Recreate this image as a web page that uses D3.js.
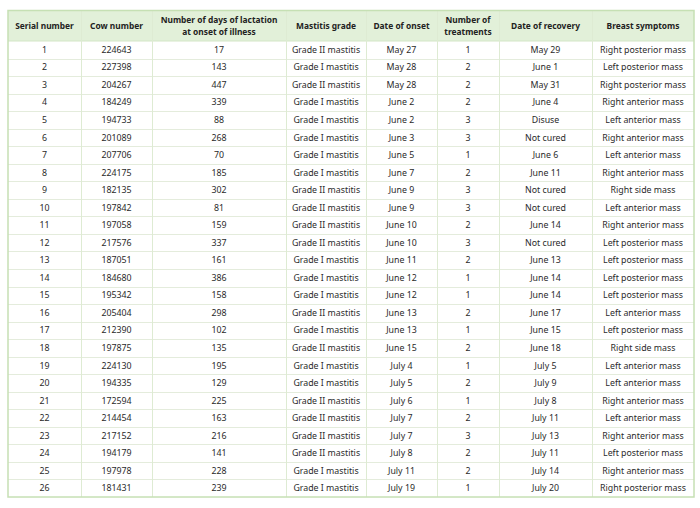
<!DOCTYPE html>
<html>
<head>
<meta charset="utf-8">
<script src="https://cdn.jsdelivr.net/npm/d3@7"></script>
<style>
  html, body { margin: 0; padding: 0; background: #fff; }
  svg { display: block; }
  text { font-family: "Noto Sans", "Open Sans", sans-serif; }
</style>
</head>
<body>
<svg id="chart" width="700" height="508"></svg>
<script>
const headers = [
  ["Serial number"],
  ["Cow number"],
  ["Number of days of lactation", "at onset of illness"],
  ["Mastitis grade"],
  ["Date of onset"],
  ["Number of", "treatments"],
  ["Date of recovery"],
  ["Breast symptoms"]
];
const serial = d3.range(1, 27).map(String);
const cowNumber = ["224643","227398","204267","184249","194733","201089","207706","224175","182135","197842","197058","217576","187051","184680","195342","205404","212390","197875","224130","194335","172594","214454","217152","194179","197978","181431"];
const lactationDays = [17,143,447,339,88,268,70,185,302,81,159,337,161,386,158,298,102,135,195,129,225,163,216,141,228,239];
const grade = ["II","I","II","I","I","I","I","I","II","II","II","II","I","I","I","II","I","II","I","I","II","II","II","II","I","I"];
const onset = ["May 27","May 28","May 28","June 2","June 2","June 3","June 5","June 7","June 9","June 9","June 10","June 10","June 11","June 12","June 12","June 13","June 13","June 15","July 4","July 5","July 6","July 7","July 7","July 8","July 11","July 19"];
const treatments = [1,2,2,2,3,3,1,2,3,3,2,3,2,1,1,2,1,2,1,2,1,2,3,2,2,1];
const recovery = ["May 29","June 1","May 31","June 4","Disuse","Not cured","June 6","June 11","Not cured","Not cured","June 14","Not cured","June 13","June 14","June 14","June 17","June 15","June 18","July 5","July 9","July 8","July 11","July 13","July 11","July 14","July 20"];
const symptoms = ["Right posterior mass","Left posterior mass","Right posterior mass","Right anterior mass","Left anterior mass","Right anterior mass","Left anterior mass","Right anterior mass","Right side mass","Left anterior mass","Right anterior mass","Left posterior mass","Left posterior mass","Left posterior mass","Left posterior mass","Left anterior mass","Left posterior mass","Right side mass","Left anterior mass","Left anterior mass","Right anterior mass","Left anterior mass","Right anterior mass","Left posterior mass","Right anterior mass","Right posterior mass"];

const rows = serial.map((s, i) => [
  s, cowNumber[i], String(lactationDays[i]), "Grade " + grade[i] + " mastitis",
  onset[i], String(treatments[i]), recovery[i], symptoms[i]
]);

const colEdges = [8, 81, 152, 286, 366, 437, 499, 592, 694];
const tableTop = 10.5, headerBottom = 41, tableBottom = 497;

const svg = d3.select("#chart");
const y = d3.scaleBand().domain(d3.range(rows.length)).range([headerBottom, tableBottom]);

// header background
svg.append("rect")
  .attr("x", colEdges[0]).attr("y", tableTop)
  .attr("width", colEdges[colEdges.length-1] - colEdges[0])
  .attr("height", headerBottom - tableTop)
  .attr("fill", "#e2f0d9");

// horizontal row lines
svg.append("g").selectAll("line")
  .data(d3.range(1, rows.length))
  .join("line")
  .attr("x1", colEdges[0]).attr("x2", colEdges[colEdges.length-1])
  .attr("y1", d => Math.round(y(d)) + 0.5).attr("y2", d => Math.round(y(d)) + 0.5)
  .attr("stroke", "#e4ecdc").attr("stroke-width", 1);

svg.append("line")
  .attr("x1", colEdges[0]).attr("x2", colEdges[colEdges.length-1])
  .attr("y1", headerBottom).attr("y2", headerBottom)
  .attr("stroke", "#d3e6c6").attr("stroke-width", 1);

// vertical lines
svg.append("g").selectAll("line")
  .data(colEdges.slice(1, -1))
  .join("line")
  .attr("x1", d => d + 0.5).attr("x2", d => d + 0.5)
  .attr("y1", tableTop).attr("y2", tableBottom)
  .attr("stroke", "#deebd3").attr("stroke-width", 1);

// outer border
svg.append("rect")
  .attr("x", colEdges[0]).attr("y", tableTop)
  .attr("width", colEdges[colEdges.length-1] - colEdges[0])
  .attr("height", tableBottom - tableTop)
  .attr("fill", "none")
  .attr("stroke", "#c6e0b4").attr("stroke-width", 1.5);

const cx = i => (colEdges[i] + colEdges[i+1]) / 2;

// header text
const hg = svg.append("g");
headers.forEach((lines, i) => {
  const mid = (tableTop + headerBottom) / 2;
  const lh = 12;
  lines.forEach((t, j) => {
    hg.append("text")
      .attr("x", cx(i))
      .attr("y", mid + (j - (lines.length - 1) / 2) * lh)
      .attr("dy", "0.35em")
      .attr("text-anchor", "middle")
      .attr("font-size", 8.4)
      .attr("font-weight", "bold")
      .attr("fill", "#222")
      .text(t);
  });
});

// body text
const bg = svg.append("g");
rows.forEach((r, ri) => {
  r.forEach((t, ci) => {
    bg.append("text")
      .attr("x", cx(ci))
      .attr("y", y(ri) + y.bandwidth() / 2)
      .attr("dy", "0.35em")
      .attr("text-anchor", "middle")
      .attr("font-size", 8.8)
      .attr("fill", "#2a2a2a")
      .text(t);
  });
});
</script>
</body>
</html>
